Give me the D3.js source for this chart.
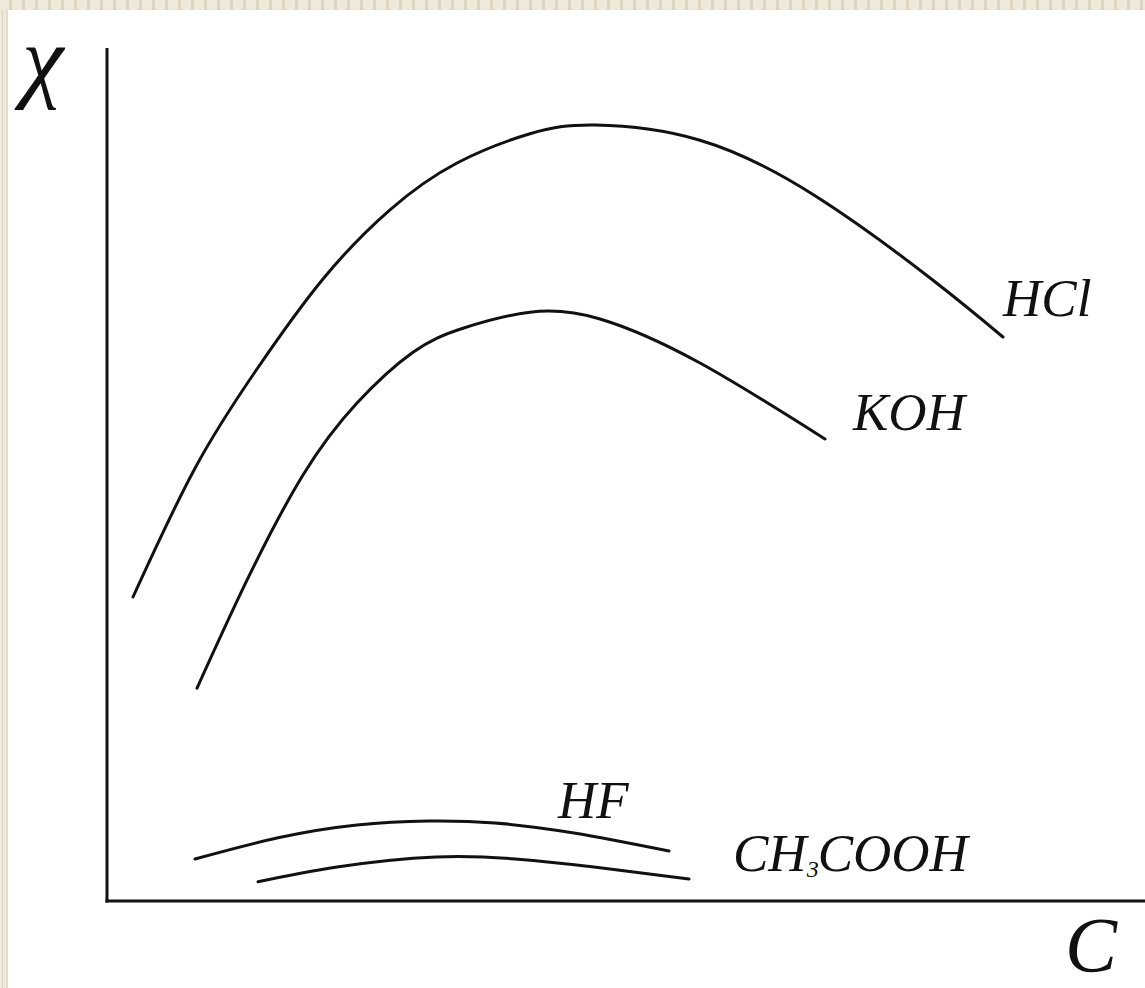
<!DOCTYPE html>
<html>
<head>
<meta charset="utf-8">
<script src="https://cdn.jsdelivr.net/npm/d3@7"></script>
<style>
  body { margin: 0; background: #fff; }
  svg { display: block; }
</style>
</head>
<body>
<script>
// concentration (x) and conductivity (y) in arbitrary units, 0..100
var hclX = [2.6, 8.8, 15.0, 21.6, 28.3, 35.0, 42.3, 48.8, 59.3, 71.0, 82.6, 89.6];
var hclY = [38.0, 54.1, 66.5, 77.75, 86.4, 92.25, 95.9, 97.0, 95.1, 88.0, 77.6, 70.5];

var kohX = [9.0, 14.0, 19.6, 25.0, 30.6, 35.6, 42.3, 49.3, 59.3, 71.8];
var kohY = [26.6, 40.1, 53.25, 62.25, 68.6, 71.6, 73.6, 72.75, 67.25, 57.75];

var hfX = [8.8, 17.1, 25.0, 32.1, 38.8, 46.7, 56.2];
var hfY = [5.25, 7.9, 9.5, 10.0, 9.75, 8.5, 6.25];

var acX = [15.1, 23.0, 32.9, 40.8, 48.7, 58.2];
var acY = [2.4, 4.25, 5.5, 5.25, 4.25, 2.75];

var names = ["HCl", "KOH", "HF", "CH3COOH"];

const W = 1145, H = 988;

const x = d3.scaleLinear().domain([0, 100]).range([107, 1107]);
const y = d3.scaleLinear().domain([0, 100]).range([901, 101]);

const svg = d3.select("body").append("svg")
  .attr("width", W)
  .attr("height", H);

// beige striped frame (top and left)
const defs = svg.append("defs");
const pat = defs.append("pattern")
  .attr("id", "stripes")
  .attr("width", 13).attr("height", 10)
  .attr("patternUnits", "userSpaceOnUse");
pat.append("rect").attr("width", 13).attr("height", 10).attr("fill", "#efe9da");
pat.append("rect").attr("x", 9).attr("width", 3).attr("height", 10).attr("fill", "#ddd5c1");

const patL = defs.append("pattern")
  .attr("id", "stripesL")
  .attr("width", 8).attr("height", 10)
  .attr("patternUnits", "userSpaceOnUse");
patL.append("rect").attr("width", 8).attr("height", 10).attr("fill", "#efe9da");
patL.append("rect").attr("x", 2).attr("width", 1).attr("height", 10).attr("fill", "#ddd5c1");
patL.append("rect").attr("x", 6).attr("width", 2).attr("height", 10).attr("fill", "#e3dcc9");

svg.append("rect").attr("width", W).attr("height", 10).attr("fill", "url(#stripes)");
svg.append("rect").attr("y", 10).attr("width", 8).attr("height", H - 10).attr("fill", "url(#stripesL)");

// axes
svg.append("line")
  .attr("x1", x(0)).attr("x2", x(0))
  .attr("y1", 48).attr("y2", y(0) + 1.5)
  .attr("stroke", "#111").attr("stroke-width", 3);
svg.append("line")
  .attr("x1", x(0) - 1.5).attr("x2", W)
  .attr("y1", y(0)).attr("y2", y(0))
  .attr("stroke", "#111").attr("stroke-width", 3);

// curves
const line = d3.line()
  .x(d => x(d[0]))
  .y(d => y(d[1]))
  .curve(d3.curveNatural);

const series = [
  d3.zip(hclX, hclY),
  d3.zip(kohX, kohY),
  d3.zip(hfX, hfY),
  d3.zip(acX, acY)
];

svg.selectAll("path.curve")
  .data(series)
  .enter()
  .append("path")
  .attr("class", "curve")
  .attr("d", line)
  .attr("fill", "none")
  .attr("stroke", "#111")
  .attr("stroke-width", 3)
  .attr("stroke-linecap", "round");

// labels
const lab = svg.append("g")
  .attr("font-family", "'Liberation Serif', 'Times New Roman', serif")
  .attr("font-style", "italic")
  .attr("font-size", 53)
  .attr("fill", "#111");

lab.append("text").attr("x", 1003).attr("y", 316).text(names[0]);
lab.append("text").attr("x", 853).attr("y", 430).text(names[1]);
lab.append("text").attr("x", 558).attr("y", 818).text(names[2]);

const ac = lab.append("text").attr("x", 733).attr("y", 871);
ac.append("tspan").text("CH");
ac.append("tspan").attr("font-size", 24).attr("dy", 6).attr("dx", 0).text("3");
ac.append("tspan").attr("dy", -6).attr("dx", -1).text("COOH");

// axis titles
svg.append("text")
  .attr("x", 22).attr("y", 90)
  .attr("font-family", "'Liberation Serif', serif")
  .attr("font-style", "italic")
  .attr("font-size", 94)
  .attr("fill", "#111")
  .text("χ");

svg.append("text")
  .attr("x", 1065).attr("y", 971)
  .attr("font-family", "'Liberation Serif', serif")
  .attr("font-style", "italic")
  .attr("font-size", 78)
  .attr("fill", "#111")
  .text("C");
</script>
</body>
</html>
